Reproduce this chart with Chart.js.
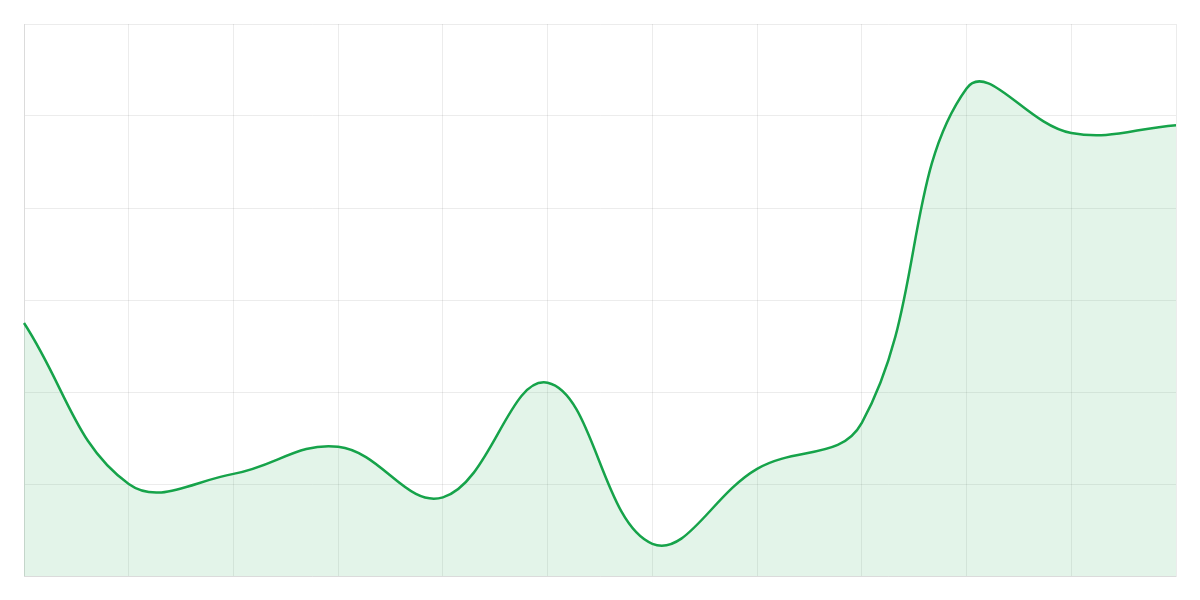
<!DOCTYPE html>
<html>
<head>
<meta charset="utf-8">
<script src="https://cdn.jsdelivr.net/npm/chart.js@4/dist/chart.umd.min.js"></script>
<style>
  html, body { margin: 0; padding: 0; background: #fff; }
  #wrap { width: 1200px; height: 600px; }
</style>
</head>
<body>
<div id="wrap"><canvas id="line-chart"></canvas></div>
<script>
// values (y scale 0..120)
const labels = ["1","2","3","4","5","6","7","8","9","10","11","12"]
const values = [55, 20, 22.2, 28.1, 17.1, 42.0, 7.0, 23.3, 33.3, 106.0, 96.3, 98.0]
const yMin = 0
const yMax = 120
const yStep = 20

const gridColor = "rgba(0,0,0,0.075)"

new Chart("line-chart", {
    type: "line",
    data: {
        labels: labels,
        datasets: [{
            data: values,
            borderColor: "#16a34a",
            backgroundColor: "rgba(22,163,74,0.12)",
            borderWidth: 2.5,
            fill: true,
            tension: 0.4,
            pointRadius: 0
        }]
    },
    options: {
        responsive: true,
        maintainAspectRatio: false,
        animation: false,
        layout: { padding: 24 },
        plugins: {
            legend: { display: false },
            tooltip: { enabled: false }
        },
        scales: {
            x: {
                grid: { color: gridColor, drawTicks: false },
                border: { color: gridColor },
                ticks: { display: false }
            },
            y: {
                min: yMin,
                max: yMax,
                grid: { color: gridColor, drawTicks: false },
                border: { color: gridColor },
                ticks: { display: false, stepSize: yStep }
            }
        }
    }
});
</script>
</body>
</html>
